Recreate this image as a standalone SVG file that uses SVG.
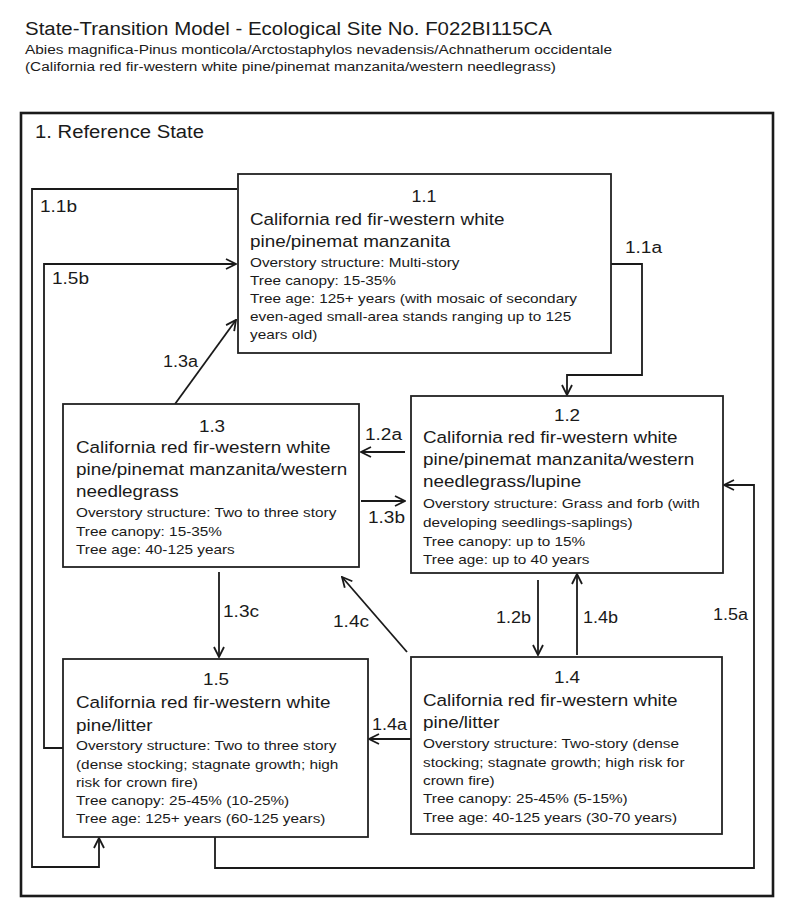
<svg xmlns="http://www.w3.org/2000/svg" width="800" height="920" viewBox="0 0 800 920">
<style>
text{font-family:"Liberation Sans",Arial,sans-serif;fill:#1a1a1a}
.title{font-size:18px}
.sub{font-size:12px}
.state{font-size:18px}
.big{font-size:17px}
.small{font-size:13px}
.num{font-size:17px;text-anchor:middle}
.lbl{font-size:16px}
.box{fill:#fff;stroke:#222;stroke-width:1.8}
.outer{fill:none;stroke:#1a1a1a;stroke-width:2.6}
.conn path{fill:none;stroke:#1a1a1a;stroke-width:1.8;marker-end:url(#arr)}
</style>
<defs>
<marker id="arr" viewBox="0 0 12 12" refX="11" refY="6" markerWidth="12" markerHeight="12" markerUnits="userSpaceOnUse" orient="auto">
<path d="M1,1 L11,6 L1,11" fill="none" stroke="#1a1a1a" stroke-width="1.8"/>
</marker>
</defs>
<rect width="800" height="920" fill="#fff"/>
<g id="header">
<text class="title" x="25" y="35" textLength="527" lengthAdjust="spacingAndGlyphs">State-Transition Model - Ecological Site No. F022BI115CA</text>
<text class="sub" x="25" y="54" textLength="587" lengthAdjust="spacingAndGlyphs">Abies magnifica-Pinus monticola/Arctostaphylos nevadensis/Achnatherum occidentale</text>
<text class="sub" x="25" y="71" textLength="531" lengthAdjust="spacingAndGlyphs">(California red fir-western white pine/pinemat manzanita/western needlegrass)</text>
</g>
<g id="state1">
<rect class="outer" x="21" y="113" width="752" height="783"/>
<text class="state" x="35" y="138" textLength="169" lengthAdjust="spacingAndGlyphs">1. Reference State</text>
</g>
<g id="connectors" class="conn">
<path d="M611,264 H642 V375 H567 V395"/>
<path d="M237,189 H32 V867 H99 V838"/>
<path d="M63,748 H44 V264 H236"/>
<path d="M175,404 L236,320"/>
<path d="M405,452 H361"/>
<path d="M361,501 H405"/>
<path d="M219,572 V657"/>
<path d="M407,652 L342,577"/>
<path d="M538,580 V655"/>
<path d="M577,655 V574"/>
<path d="M411,739 H369"/>
<path d="M215,837 V868 H754 V485 H724"/>
</g>
<g id="labels">
<text class="lbl" x="625" y="253" textLength="37" lengthAdjust="spacingAndGlyphs">1.1a</text>
<text class="lbl" x="40" y="212" textLength="37" lengthAdjust="spacingAndGlyphs">1.1b</text>
<text class="lbl" x="52" y="284" textLength="37" lengthAdjust="spacingAndGlyphs">1.5b</text>
<text class="lbl" x="163" y="367" textLength="35" lengthAdjust="spacingAndGlyphs">1.3a</text>
<text class="lbl" x="365" y="440" textLength="37" lengthAdjust="spacingAndGlyphs">1.2a</text>
<text class="lbl" x="368" y="523" textLength="37" lengthAdjust="spacingAndGlyphs">1.3b</text>
<text class="lbl" x="223" y="617" textLength="36" lengthAdjust="spacingAndGlyphs">1.3c</text>
<text class="lbl" x="333" y="627" textLength="36" lengthAdjust="spacingAndGlyphs">1.4c</text>
<text class="lbl" x="496" y="623" textLength="35" lengthAdjust="spacingAndGlyphs">1.2b</text>
<text class="lbl" x="583" y="623" textLength="35" lengthAdjust="spacingAndGlyphs">1.4b</text>
<text class="lbl" x="713" y="620" textLength="35" lengthAdjust="spacingAndGlyphs">1.5a</text>
<text class="lbl" x="372" y="730" textLength="35" lengthAdjust="spacingAndGlyphs">1.4a</text>
</g>
<g id="node-1-1">
<rect class="box" x="238" y="174" width="373" height="179"/>
<text class="num" transform="translate(424 0) scale(1.05 1)" x="0" y="202">1.1</text>
<g transform="translate(250 0) scale(1.11 1)">
<text class="big" x="0" y="225">California red fir-western white</text>
<text class="big" x="0" y="247">pine/pinemat manzanita</text>
</g>
<g transform="translate(250 0) scale(1.18 1)">
<text class="small" x="0" y="267">Overstory structure: Multi-story</text>
<text class="small" x="0" y="285">Tree canopy: 15-35%</text>
<text class="small" x="0" y="303">Tree age: 125+ years (with mosaic of secondary</text>
<text class="small" x="0" y="321">even-aged small-area stands ranging up to 125</text>
<text class="small" x="0" y="339">years old)</text>
</g>
</g>
<g id="node-1-2">
<rect class="box" x="411" y="396" width="312" height="177"/>
<text class="num" transform="translate(567 0) scale(1.11 1)" x="0" y="421">1.2</text>
<g transform="translate(423 0) scale(1.11 1)">
<text class="big" x="0" y="443">California red fir-western white</text>
<text class="big" x="0" y="465">pine/pinemat manzanita/western</text>
<text class="big" x="0" y="487">needlegrass/lupine</text>
</g>
<g transform="translate(423 0) scale(1.18 1)">
<text class="small" x="0" y="508">Overstory structure: Grass and forb (with</text>
<text class="small" x="0" y="527">developing seedlings-saplings)</text>
<text class="small" x="0" y="546">Tree canopy: up to 15%</text>
<text class="small" x="0" y="564">Tree age: up to 40 years</text>
</g>
</g>
<g id="node-1-3">
<rect class="box" x="63" y="404" width="296" height="163"/>
<text class="num" transform="translate(212 0) scale(1.11 1)" x="0" y="432">1.3</text>
<g transform="translate(76 0) scale(1.11 1)">
<text class="big" x="0" y="453">California red fir-western white</text>
<text class="big" x="0" y="475">pine/pinemat manzanita/western</text>
<text class="big" x="0" y="497">needlegrass</text>
</g>
<g transform="translate(76 0) scale(1.18 1)">
<text class="small" x="0" y="517">Overstory structure: Two to three story</text>
<text class="small" x="0" y="536">Tree canopy: 15-35%</text>
<text class="small" x="0" y="554">Tree age: 40-125 years</text>
</g>
</g>
<g id="node-1-4">
<rect class="box" x="411" y="657" width="311" height="177"/>
<text class="num" transform="translate(567 0) scale(1.11 1)" x="0" y="683">1.4</text>
<g transform="translate(423 0) scale(1.11 1)">
<text class="big" x="0" y="706">California red fir-western white</text>
<text class="big" x="0" y="728">pine/litter</text>
</g>
<g transform="translate(423 0) scale(1.18 1)">
<text class="small" x="0" y="748">Overstory structure: Two-story (dense</text>
<text class="small" x="0" y="767">stocking; stagnate growth; high risk for</text>
<text class="small" x="0" y="785">crown fire)</text>
<text class="small" x="0" y="803">Tree canopy: 25-45% (5-15%)</text>
<text class="small" x="0" y="822">Tree age: 40-125 years (30-70 years)</text>
</g>
</g>
<g id="node-1-5">
<rect class="box" x="63" y="659" width="305" height="178"/>
<text class="num" transform="translate(216 0) scale(1.11 1)" x="0" y="685">1.5</text>
<g transform="translate(76 0) scale(1.11 1)">
<text class="big" x="0" y="708">California red fir-western white</text>
<text class="big" x="0" y="731">pine/litter</text>
</g>
<g transform="translate(76 0) scale(1.18 1)">
<text class="small" x="0" y="750">Overstory structure: Two to three story</text>
<text class="small" x="0" y="769">(dense stocking; stagnate growth; high</text>
<text class="small" x="0" y="787">risk for crown fire)</text>
<text class="small" x="0" y="805">Tree canopy: 25-45% (10-25%)</text>
<text class="small" x="0" y="823">Tree age: 125+ years (60-125 years)</text>
</g>
</g>
</svg>
